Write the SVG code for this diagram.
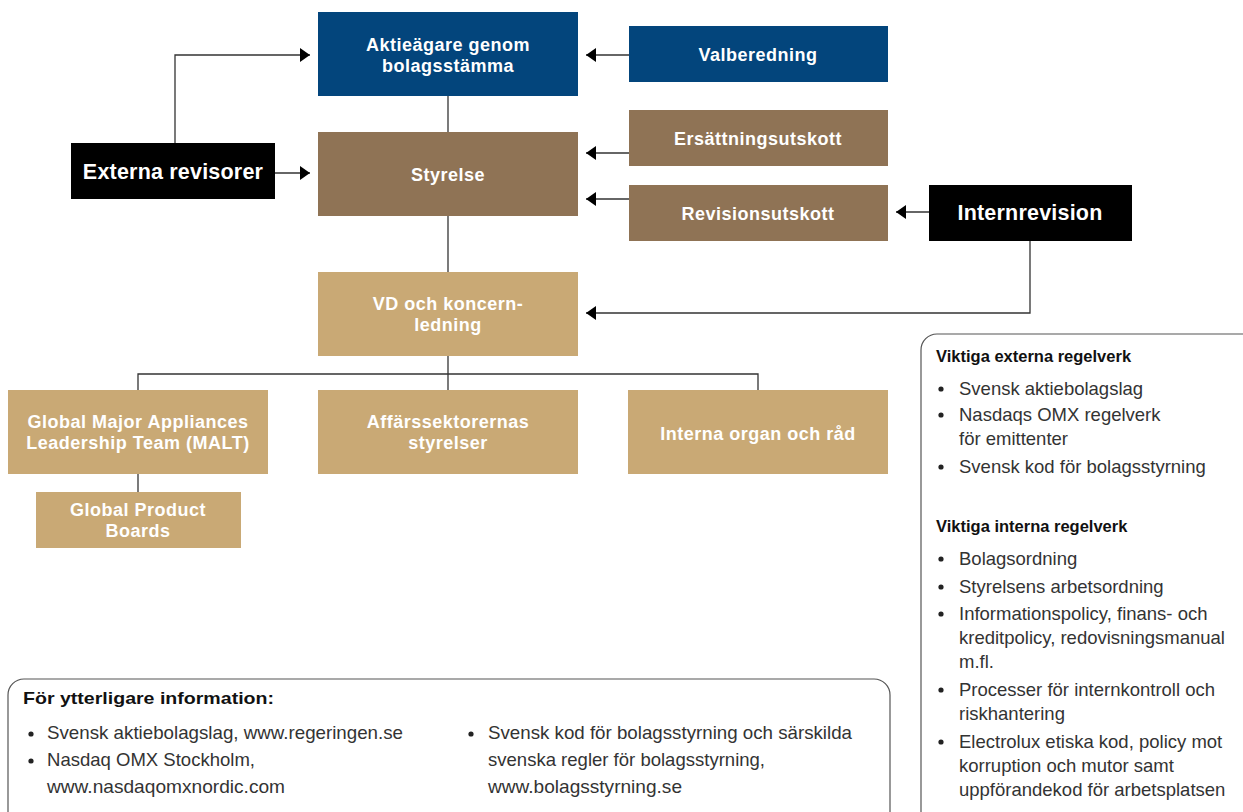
<svg xmlns="http://www.w3.org/2000/svg" width="1243" height="812" viewBox="0 0 1243 812">
<defs>
<marker id="arr" viewBox="0 0 10 14" refX="10" refY="7" markerWidth="10" markerHeight="14" markerUnits="userSpaceOnUse" orient="auto">
<path d="M0,0 L10,7 L0,14 z" fill="#000"/>
</marker>
<style>
.blue{fill:#03457c}
.brown{fill:#8f7355}
.tan{fill:#c9a975}
.black{fill:#000}
.nt{font-family:"Liberation Sans",Arial,sans-serif;font-weight:bold;font-size:18px;letter-spacing:0.5px;fill:#fff;text-anchor:middle}
.nb{font-family:"Liberation Sans",Arial,sans-serif;font-weight:bold;font-size:21.5px;letter-spacing:0.2px;fill:#fff;text-anchor:middle}
.c{fill:none;stroke:#333;stroke-width:1.3}
.box{fill:#fff;stroke:#555;stroke-width:1.2}
.h{font-family:"Liberation Sans",Arial,sans-serif;font-weight:bold;font-size:16.5px;fill:#111}
.b{font-family:"Liberation Sans",Arial,sans-serif;font-size:18.5px;fill:#333}
.bl{fill:#222}
</style>
</defs>
<rect width="1243" height="812" fill="#fff"/>

<g id="connectors">
<path class="c" d="M175,143 V55 H310" marker-end="url(#arr)"/>
<path class="c" d="M275,173 H310" marker-end="url(#arr)"/>
<path class="c" d="M629,55 H586" marker-end="url(#arr)"/>
<path class="c" d="M629,153 H586" marker-end="url(#arr)"/>
<path class="c" d="M629,199 H586" marker-end="url(#arr)"/>
<path class="c" d="M929,212 H896" marker-end="url(#arr)"/>
<path class="c" d="M1030,241 V313 H586" marker-end="url(#arr)"/>
<path class="c" d="M448,96 V132"/>
<path class="c" d="M448,216 V272"/>
<path class="c" d="M448,356 V390"/>
<path class="c" d="M138,390 V374 H758 V390"/>
<path class="c" d="M138,474 V492"/>
</g>

<g id="aktieagare">
<rect class="blue" x="318" y="12" width="260" height="84"/>
<text class="nt" x="448" y="51">Aktieägare genom</text>
<text class="nt" x="448" y="72">bolagsstämma</text>
</g>
<g id="valberedning">
<rect class="blue" x="629" y="26" width="259" height="56"/>
<text class="nt" x="758" y="61">Valberedning</text>
</g>
<g id="externa-revisorer">
<rect class="black" x="71" y="143" width="204" height="56"/>
<text class="nb" x="173" y="179">Externa revisorer</text>
</g>
<g id="styrelse">
<rect class="brown" x="318" y="132" width="260" height="84"/>
<text class="nt" x="448" y="181">Styrelse</text>
</g>
<g id="ersattningsutskott">
<rect class="brown" x="629" y="110" width="259" height="56"/>
<text class="nt" x="758" y="145">Ersättningsutskott</text>
</g>
<g id="revisionsutskott">
<rect class="brown" x="629" y="185" width="259" height="56"/>
<text class="nt" x="758" y="220">Revisionsutskott</text>
</g>
<g id="internrevision">
<rect class="black" x="929" y="185" width="203" height="56"/>
<text class="nb" x="1030" y="220">Internrevision</text>
</g>
<g id="vd">
<rect class="tan" x="318" y="272" width="260" height="84"/>
<text class="nt" x="448" y="310">VD och koncern-</text>
<text class="nt" x="448" y="331">ledning</text>
</g>
<g id="malt">
<rect class="tan" x="8" y="390" width="260" height="84"/>
<text class="nt" x="138" y="428">Global Major Appliances</text>
<text class="nt" x="138" y="449">Leadership Team (MALT)</text>
</g>
<g id="affarssektorer">
<rect class="tan" x="318" y="390" width="260" height="84"/>
<text class="nt" x="448" y="428">Affärssektorernas</text>
<text class="nt" x="448" y="449">styrelser</text>
</g>
<g id="interna-organ">
<rect class="tan" x="628" y="390" width="260" height="84"/>
<text class="nt" x="758" y="440">Interna organ och råd</text>
</g>
<g id="global-product">
<rect class="tan" x="36" y="492" width="205" height="56"/>
<text class="nt" x="138" y="516">Global Product</text>
<text class="nt" x="138" y="537">Boards</text>
</g>

<g id="regelverk">
<rect class="box" x="921" y="334" width="340" height="500" rx="16"/>
<text class="h" x="936" y="362">Viktiga externa regelverk</text>
<circle class="bl" cx="941" cy="389" r="2.6"/>
<text class="b" x="959" y="395">Svensk aktiebolagslag</text>
<circle class="bl" cx="941" cy="415" r="2.6"/>
<text class="b" x="959" y="421">Nasdaqs OMX regelverk</text>
<text class="b" x="959" y="445">för emittenter</text>
<circle class="bl" cx="941" cy="467" r="2.6"/>
<text class="b" x="959" y="473">Svensk kod för bolagsstyrning</text>
<text class="h" x="936" y="532">Viktiga interna regelverk</text>
<circle class="bl" cx="941" cy="559" r="2.6"/>
<text class="b" x="959" y="565">Bolagsordning</text>
<circle class="bl" cx="941" cy="587" r="2.6"/>
<text class="b" x="959" y="593">Styrelsens arbetsordning</text>
<circle class="bl" cx="941" cy="614" r="2.6"/>
<text class="b" x="959" y="620">Informationspolicy, finans- och</text>
<text class="b" x="959" y="644">kreditpolicy, redovisningsmanual</text>
<text class="b" x="959" y="668">m.fl.</text>
<circle class="bl" cx="941" cy="690" r="2.6"/>
<text class="b" x="959" y="696">Processer för internkontroll och</text>
<text class="b" x="959" y="720">riskhantering</text>
<circle class="bl" cx="941" cy="742" r="2.6"/>
<text class="b" x="959" y="748">Electrolux etiska kod, policy mot</text>
<text class="b" x="959" y="772">korruption och mutor samt</text>
<text class="b" x="959" y="796">uppförandekod för arbetsplatsen</text>
</g>

<g id="information">
<rect class="box" x="8" y="679" width="882" height="160" rx="16"/>
<text class="h" x="23" y="704" textLength="251" lengthAdjust="spacingAndGlyphs">För ytterligare information:</text>
<circle class="bl" cx="31" cy="734" r="2.6"/>
<text class="b" x="47" y="739" textLength="356" lengthAdjust="spacingAndGlyphs">Svensk aktiebolagslag, www.regeringen.se</text>
<circle class="bl" cx="31" cy="761" r="2.6"/>
<text class="b" x="47" y="766" textLength="208" lengthAdjust="spacingAndGlyphs">Nasdaq OMX Stockholm,</text>
<text class="b" x="47" y="793" textLength="238" lengthAdjust="spacingAndGlyphs">www.nasdaqomxnordic.com</text>
<circle class="bl" cx="471" cy="734" r="2.6"/>
<text class="b" x="488" y="739" textLength="364" lengthAdjust="spacingAndGlyphs">Svensk kod för bolagsstyrning och särskilda</text>
<text class="b" x="488" y="766" textLength="277" lengthAdjust="spacingAndGlyphs">svenska regler för bolagsstyrning,</text>
<text class="b" x="488" y="793" textLength="194" lengthAdjust="spacingAndGlyphs">www.bolagsstyrning.se</text>
</g>
</svg>
